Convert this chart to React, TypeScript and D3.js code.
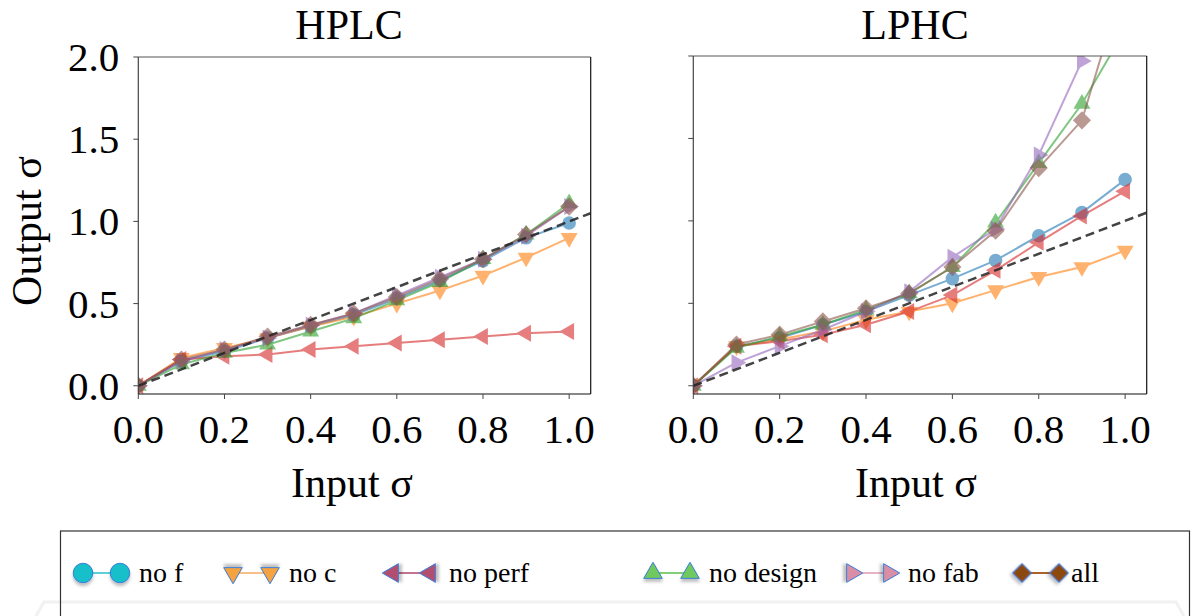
import React from "react";
import * as d3 from "d3";

// shared x values (input sigma)
const inputSigma = [0, 0.1, 0.2, 0.3, 0.4, 0.5, 0.6, 0.7, 0.8, 0.9, 1.0];

// HPLC panel
const hplcNoF = [0, 0.15, 0.21, 0.29, 0.36, 0.43, 0.53, 0.64, 0.76, 0.9, 0.99];
const hplcNoC = [0, 0.17, 0.23, 0.29, 0.36, 0.42, 0.5, 0.58, 0.67, 0.78, 0.9];
const hplcNoPerf = [0, 0.16, 0.18, 0.19, 0.22, 0.24, 0.26, 0.28, 0.3, 0.32, 0.33];
const hplcNoDesign = [0, 0.13, 0.2, 0.25, 0.33, 0.41, 0.52, 0.63, 0.77, 0.92, 1.11];
const hplcNoFab = [0, 0.15, 0.22, 0.29, 0.37, 0.44, 0.55, 0.66, 0.77, 0.91, 1.09];
const hplcAll = [0, 0.16, 0.22, 0.3, 0.37, 0.44, 0.54, 0.65, 0.77, 0.92, 1.09];

// LPHC panel
const lphcNoF = [0, 0.24, 0.29, 0.37, 0.45, 0.55, 0.65, 0.76, 0.91, 1.05, 1.25];
const lphcNoC = [0, 0.24, 0.28, 0.33, 0.4, 0.45, 0.5, 0.58, 0.66, 0.72, 0.82];
const lphcNoPerf = [0, 0.24, 0.27, 0.31, 0.37, 0.45, 0.55, 0.7, 0.87, 1.03, 1.18];
const lphcNoDesign = [0, 0.23, 0.3, 0.37, 0.46, 0.56, 0.72, 0.99, 1.35, 1.71, 2.16];
const lphcNoFab = [0, 0.14, 0.24, 0.34, 0.45, 0.57, 0.78, 0.95, 1.4, 1.97, 2.8];
const lphcAll = [0, 0.25, 0.31, 0.39, 0.47, 0.56, 0.72, 0.94, 1.32, 1.61, 2.48];

const seriesNames = ["no f", "no c", "no perf", "no design", "no fab", "all"];
const xTicks = [0, 0.2, 0.4, 0.6, 0.8, 1.0];
const yTicks = [0, 0.5, 1.0, 1.5, 2.0];

const plotColors = ["#1f77b4", "#ff7f0e", "#d62728", "#2ca02c", "#9467bd", "#8c564b"];
const legendFill = ["#13bfc9", "#f4a340", "#b2506f", "#6fc95e", "#d88fa5", "#8b4a0c"];
const legendLine = ["#5dd0d8", "#f6c08a", "#c27490", "#82cf74", "#e8b4c4", "#a8622a"];

const FONT = "'Liberation Serif', 'Times New Roman', Times, serif";

// marker shape per series: [d3 symbol type, rotation]
const shapes: [d3.SymbolType, number][] = [
  [d3.symbolCircle, 0],
  [d3.symbolTriangle, 180],
  [d3.symbolTriangle, -90],
  [d3.symbolTriangle, 0],
  [d3.symbolTriangle, 90],
  [d3.symbolSquare, 45],
];
const sizes = [145, 125, 125, 125, 125, 165];
const legendSizes = [300, 150, 150, 150, 150, 180];

function Panel({ id, title, series, left, right, top, bottom, showYLabels, titleX, labelX }) {
  const x = d3.scaleLinear().domain([0, 1.05]).range([left, right]);
  const y = d3.scaleLinear().domain([-0.05, 2.0]).range([bottom, top]);
  const line = d3
    .line<number>()
    .x((_, i) => x(inputSigma[i]))
    .y((d) => y(d));

  return (
    <g>
      <defs>
        <clipPath id={id}>
          <rect x={left} y={top} width={right - left} height={bottom - top} />
        </clipPath>
      </defs>
      <text x={titleX} y={39} textAnchor="middle" fontSize={42} fontFamily={FONT}>
        {title}
      </text>
      <g clipPath={`url(#${id})`}>
        {series.map((vals, si) => {
          const [type, rot] = shapes[si];
          const path = d3.symbol().type(type).size(sizes[si])();
          return (
            <g key={si} opacity={0.6}>
              <path d={line(vals) || ""} fill="none" stroke={plotColors[si]} strokeWidth={2} />
              {vals.map((v, i) => (
                <path
                  key={i}
                  d={path || ""}
                  transform={`translate(${x(inputSigma[i])},${y(v)}) rotate(${rot})`}
                  fill={plotColors[si]}
                />
              ))}
            </g>
          );
        })}
        <line
          x1={x(0)}
          y1={y(0)}
          x2={x(1.05)}
          y2={y(1.05)}
          stroke="#222"
          strokeOpacity={0.85}
          strokeWidth={2.5}
          strokeDasharray="9,5"
        />
      </g>
      {/* spines */}
      <line x1={left} y1={top} x2={right} y2={top} stroke="#555" strokeWidth={1.2} />
      <line x1={left} y1={top} x2={left} y2={bottom} stroke="#444" strokeWidth={1.2} />
      <line x1={right} y1={top} x2={right} y2={bottom} stroke="#111" strokeWidth={1.2} />
      <line x1={left} y1={bottom} x2={right} y2={bottom} stroke="#111" strokeWidth={1.2} />
      {xTicks.map((t) => (
        <g key={t}>
          <line x1={x(t)} x2={x(t)} y1={bottom} y2={bottom + 5} stroke="#444" />
          <text x={x(t)} y={bottom + 49} textAnchor="middle" fontSize={41} fontFamily={FONT}>
            {t.toFixed(1)}
          </text>
        </g>
      ))}
      {yTicks.map((t) => (
        <g key={t}>
          <line x1={left - 5} x2={left} y1={y(t)} y2={y(t)} stroke="#444" />
          {showYLabels && (
            <text x={left - 19} y={y(t) + 14} textAnchor="end" fontSize={41} fontFamily={FONT}>
              {t.toFixed(1)}
            </text>
          )}
        </g>
      ))}
      <text x={labelX} y={497} textAnchor="middle" fontSize={42} fontFamily={FONT}>
        Input σ
      </text>
    </g>
  );
}

function Legend() {
  const markerX = [83, 233, 393, 653, 852, 1022];
  const cy = 573;
  return (
    <g>
      <defs>
        <filter id="shadow" x="-50%" y="-50%" width="200%" height="200%">
          <feDropShadow dx="0" dy="3" stdDeviation="1.5" floodColor="#000" floodOpacity="0.25" />
        </filter>
      </defs>
      <path d="M36,616 L44,602 L1176,602 L1184,616" fill="none" stroke="#f1f1f1" strokeWidth={3} />
      <rect x={60.5} y={531} width={1129} height={100} fill="none" stroke="#333" strokeWidth={1.2} />
      {seriesNames.map((name, si) => {
        const [type, rot] = shapes[si];
        const path = d3.symbol().type(type).size(legendSizes[si])();
        const x0 = markerX[si];
        const x1 = x0 + 37;
        return (
          <g key={name}>
            <line x1={x0} x2={x1} y1={cy} y2={cy} stroke={legendLine[si]} strokeWidth={1.8} />
            {[x0, x1].map((mx) => (
              <path
                key={mx}
                d={path || ""}
                transform={`translate(${mx},${cy}) rotate(${rot})`}
                fill={legendFill[si]}
                stroke="#3b7dd8"
                strokeWidth={1}
                filter="url(#shadow)"
              />
            ))}
            <text x={x1 + (si === 5 ? 12 : 19)} y={582} fontSize={28} fontFamily={FONT}>
              {name}
            </text>
          </g>
        );
      })}
    </g>
  );
}

export default function App() {
  const hplc = [hplcNoF, hplcNoC, hplcNoPerf, hplcNoDesign, hplcNoFab, hplcAll];
  const lphc = [lphcNoF, lphcNoC, lphcNoPerf, lphcNoDesign, lphcNoFab, lphcAll];
  return (
    <svg
      width={1196}
      height={616}
      style={{ position: "absolute", left: 0, top: 0, background: "#fff" }}
    >
      <rect width={1196} height={616} fill="#fff" />
      <Panel id="clipL" title="HPLC" series={hplc} left={138.3} right={590.7} top={57} bottom={394} showYLabels titleX={349} labelX={352} />
      <Panel id="clipR" title="LPHC" series={lphc} left={693.3} right={1146.7} top={56} bottom={394} showYLabels={false} titleX={915} labelX={916} />
      <text
        transform="translate(41,231) rotate(-90)"
        textAnchor="middle"
        fontSize={42}
        fontFamily={FONT}
      >
        Output σ
      </text>
      <Legend />
    </svg>
  );
}
